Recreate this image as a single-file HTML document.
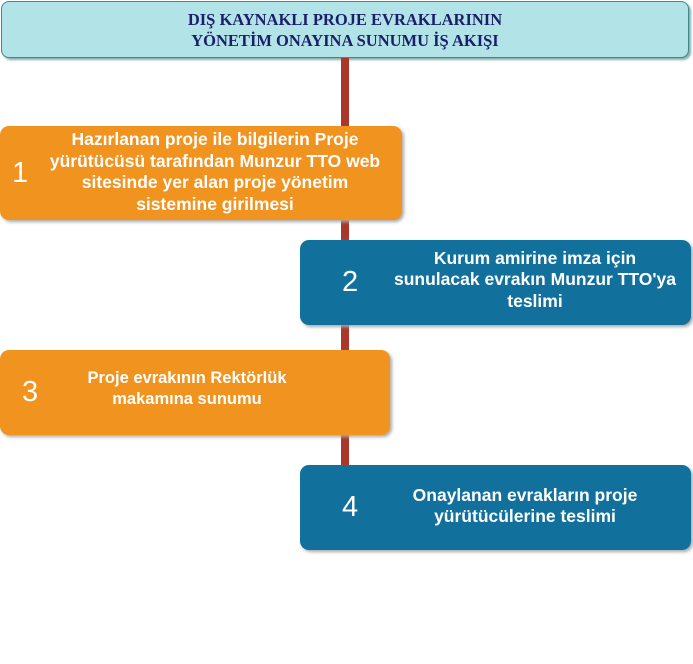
<!DOCTYPE html>
<html><head><meta charset="utf-8"><style>
body{margin:0;width:693px;height:664px;background:#fff;position:relative;overflow:hidden;font-family:"Liberation Sans",Arial,sans-serif}
.title{position:absolute;left:1px;top:1px;width:688px;height:57px;background:#b2e3e6;border:1px solid #3d8a8c;border-radius:8px;box-shadow:2px 2px 2px #8aa;text-align:center;font-family:"Liberation Serif",serif;font-weight:bold;color:#1b1f6b;font-size:16.5px;line-height:21px;padding-top:7px;box-sizing:border-box}
.line{position:absolute;left:341px;top:58px;width:8px;height:410px;background:#a9382b}
.b{position:absolute;border-radius:9px;color:#fff;box-shadow:2px 2px 3px #aaa}
.o{background:#f0931f}.bl{background:#12709c}
.n{position:absolute;font-size:29px;top:0;bottom:0;display:flex;align-items:center}
.t{position:absolute;top:0;bottom:0;display:flex;align-items:center;justify-content:center;text-align:center;font-weight:bold;font-size:17.5px;line-height:21.5px;white-space:nowrap}
</style></head><body>
<div class="title">DIŞ KAYNAKLI PROJE EVRAKLARININ<br>YÖNETİM ONAYINA SUNUMU İŞ AKIŞI</div>
<div class="line"></div>
<div class="b o" style="left:0;top:126px;width:402px;height:94px">
<div class="n" style="left:12px">1</div>
<div class="t" style="left:40px;width:350px;top:-2px">Hazırlanan proje ile bilgilerin Proje<br>yürütücüsü tarafından Munzur TTO web<br>sitesinde yer alan proje yönetim<br>sistemine girilmesi</div></div>
<div class="b bl" style="left:300px;top:240px;width:391px;height:85px">
<div class="n" style="left:42px">2</div>
<div class="t" style="left:80px;width:310px;top:-5px">Kurum amirine imza için<br>sunulacak evrakın Munzur TTO'ya<br>teslimi</div></div>
<div class="b o" style="left:0;top:350px;width:390px;height:85px">
<div class="n" style="left:22px">3</div>
<div class="t" style="left:62px;width:250px;top:-7px;font-size:16.5px">Proje evrakının Rektörlük<br>makamına sunumu</div></div>
<div class="b bl" style="left:300px;top:465px;width:391px;height:85px">
<div class="n" style="left:42px">4</div>
<div class="t" style="left:70px;width:310px;top:-3px">Onaylanan evrakların proje<br>yürütücülerine teslimi</div></div>
</body></html>
